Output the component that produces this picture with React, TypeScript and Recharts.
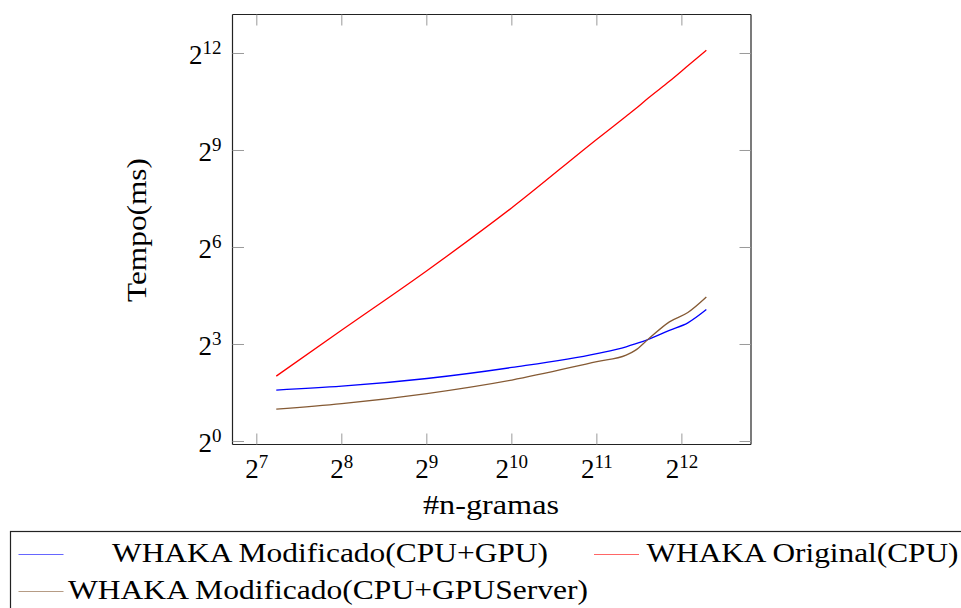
import { Line, LineChart, XAxis, YAxis } from "recharts";

const FONT = "Liberation Serif, DejaVu Serif, serif";

// número de n-gramas (eixo x)
const nGramas = [150, 256, 512, 1024, 2048, 2600, 2800, 3100, 3700, 4300, 5000];

// tempo em ms por série
const modificadoGpu = [3.01, 3.27, 3.86, 4.89, 6.59, 7.62, 8.1, 8.88, 10.85, 12.73, 16.91];
const original = [4.06, 10.9, 38.9, 150, 652, 1067, 1245, 1563, 2257, 3147, 4390];
const modificadoServer = [2.0, 2.25, 2.79, 3.73, 5.54, 6.36, 7.05, 8.88, 13.0, 15.89, 22.16];

const xTicks = [128, 256, 512, 1024, 2048, 4096];
const yTicks = [1, 8, 64, 512, 4096];

const series = [
    { key: "gpu", name: "WHAKA Modificado(CPU+GPU)", color: "#0000ff" },
    { key: "cpu", name: "WHAKA Original(CPU)", color: "#ff0000" },
    { key: "server", name: "WHAKA Modificado(CPU+GPUServer)", color: "#855a34" },
];

const data = nGramas.map((n, i) => ({
    n,
    gpu: modificadoGpu[i],
    cpu: original[i],
    server: modificadoServer[i],
}));

const xDomain = [Math.pow(2, 6.714), Math.pow(2, 12.813)];
const yDomain = [Math.pow(2, -0.093), Math.pow(2, 13.206)];

const TICK_COLOR = "#9a9a9a";
const AXIS_COLOR = "#222";

const Power = ({ value, x, y, anchor }: any) => (
    <text x={x} y={y} textAnchor={anchor} fontFamily={FONT} fontSize={27} fill="#000">
        2<tspan dy={-10} fontSize={19}>{Math.round(Math.log2(value))}</tspan>
    </text>
);

const BottomTick = ({ x, y, payload }: any) => (
    <g>
        <line x1={x} x2={x} y1={y} y2={y - 11} stroke={TICK_COLOR} />
        <Power value={payload.value} x={x} y={y + 33} anchor="middle" />
    </g>
);

const TopTick = ({ x, y }: any) => <line x1={x} x2={x} y1={y} y2={y + 11} stroke={TICK_COLOR} />;

const LeftTick = ({ x, y, payload }: any) => (
    <g>
        <line x1={x} x2={x + 11.5} y1={y} y2={y} stroke={TICK_COLOR} />
        <Power value={payload.value} x={x - 11} y={y + 10.7} anchor="end" />
    </g>
);

const RightTick = ({ x, y }: any) => <line x1={x} x2={x - 11.5} y1={y} y2={y} stroke={TICK_COLOR} />;

// posição de cada entrada da legenda (linha, coluna)
const legendSlots = [
    { row: 0, col: 0, cx: 330, w: 436 },
    { row: 0, col: 1, cx: 802.5, w: 312 },
    { row: 1, col: 0, cx: 328, w: 520 },
];
const rowY = [554.5, 591.5];
const colX = [18.5, 594];

const Overlay = () => (
    <svg width={961} height={608} style={{ position: "absolute", left: 0, top: 0, pointerEvents: "none" }}>
        <text x={491} y={514} textAnchor="middle" fontFamily={FONT} fontSize={27} textLength={136} lengthAdjust="spacingAndGlyphs">
            #n-gramas
        </text>
        <text transform="translate(146,230) rotate(-90)" textAnchor="middle" fontFamily={FONT} fontSize={28} textLength={144} lengthAdjust="spacingAndGlyphs">
            Tempo(ms)
        </text>
        <rect x={10.5} y={531.5} width={980} height={120} fill="none" stroke={AXIS_COLOR} strokeWidth={1.2} />
        {series.map((s, i) => {
            const slot = legendSlots[i];
            const y = rowY[slot.row];
            return (
                <g key={s.key}>
                    <line x1={colX[slot.col]} x2={colX[slot.col] + 45} y1={y} y2={y} stroke={s.color} strokeOpacity={0.6} strokeWidth={1.2} />
                    <text x={slot.cx} y={y + 7.5} textAnchor="middle" fontFamily={FONT} fontSize={27} textLength={slot.w} lengthAdjust="spacingAndGlyphs">
                        {s.name}
                    </text>
                </g>
            );
        })}
    </svg>
);

export default function App() {
    return (
        <div style={{ position: "relative", width: 961, height: 608, overflow: "hidden", background: "#fff" }}>
            <style>{`body{margin:0}`}</style>
            <LineChart width={961} height={608} data={data} margin={{ top: 13.5, left: 172.5, right: 209, bottom: 103.5 }}>
                <XAxis
                    dataKey="n"
                    type="number"
                    scale="log"
                    domain={xDomain}
                    allowDataOverflow
                    ticks={xTicks}
                    interval={0}
                    height={60}
                    tickSize={0}
                    tickMargin={0}
                    tickLine={false}
                    tick={<BottomTick />}
                    axisLine={{ stroke: AXIS_COLOR, strokeWidth: 1.2 }}
                />
                <XAxis
                    xAxisId="top"
                    orientation="top"
                    dataKey="n"
                    type="number"
                    scale="log"
                    domain={xDomain}
                    allowDataOverflow
                    ticks={xTicks}
                    interval={0}
                    height={1}
                    tickSize={0}
                    tickMargin={0}
                    tickLine={false}
                    tick={<TopTick />}
                    axisLine={{ stroke: AXIS_COLOR, strokeWidth: 1.2 }}
                />
                <YAxis
                    type="number"
                    scale="log"
                    domain={yDomain}
                    allowDataOverflow
                    ticks={yTicks}
                    interval={0}
                    width={60}
                    tickSize={0}
                    tickMargin={0}
                    tickLine={false}
                    tick={<LeftTick />}
                    axisLine={{ stroke: AXIS_COLOR, strokeWidth: 1.2 }}
                />
                <YAxis
                    yAxisId="right"
                    orientation="right"
                    type="number"
                    scale="log"
                    domain={yDomain}
                    allowDataOverflow
                    ticks={yTicks}
                    interval={0}
                    width={1}
                    tickSize={0}
                    tickMargin={0}
                    tickLine={false}
                    tick={<RightTick />}
                    axisLine={{ stroke: AXIS_COLOR, strokeWidth: 1.2 }}
                />
                {series.map((s) => (
                    <Line
                        key={s.key}
                        dataKey={s.key}
                        name={s.name}
                        type="monotone"
                        stroke={s.color}
                        strokeWidth={1.3}
                        dot={false}
                        activeDot={false}
                        isAnimationActive={false}
                    />
                ))}
            </LineChart>
            <Overlay />
        </div>
    );
}
